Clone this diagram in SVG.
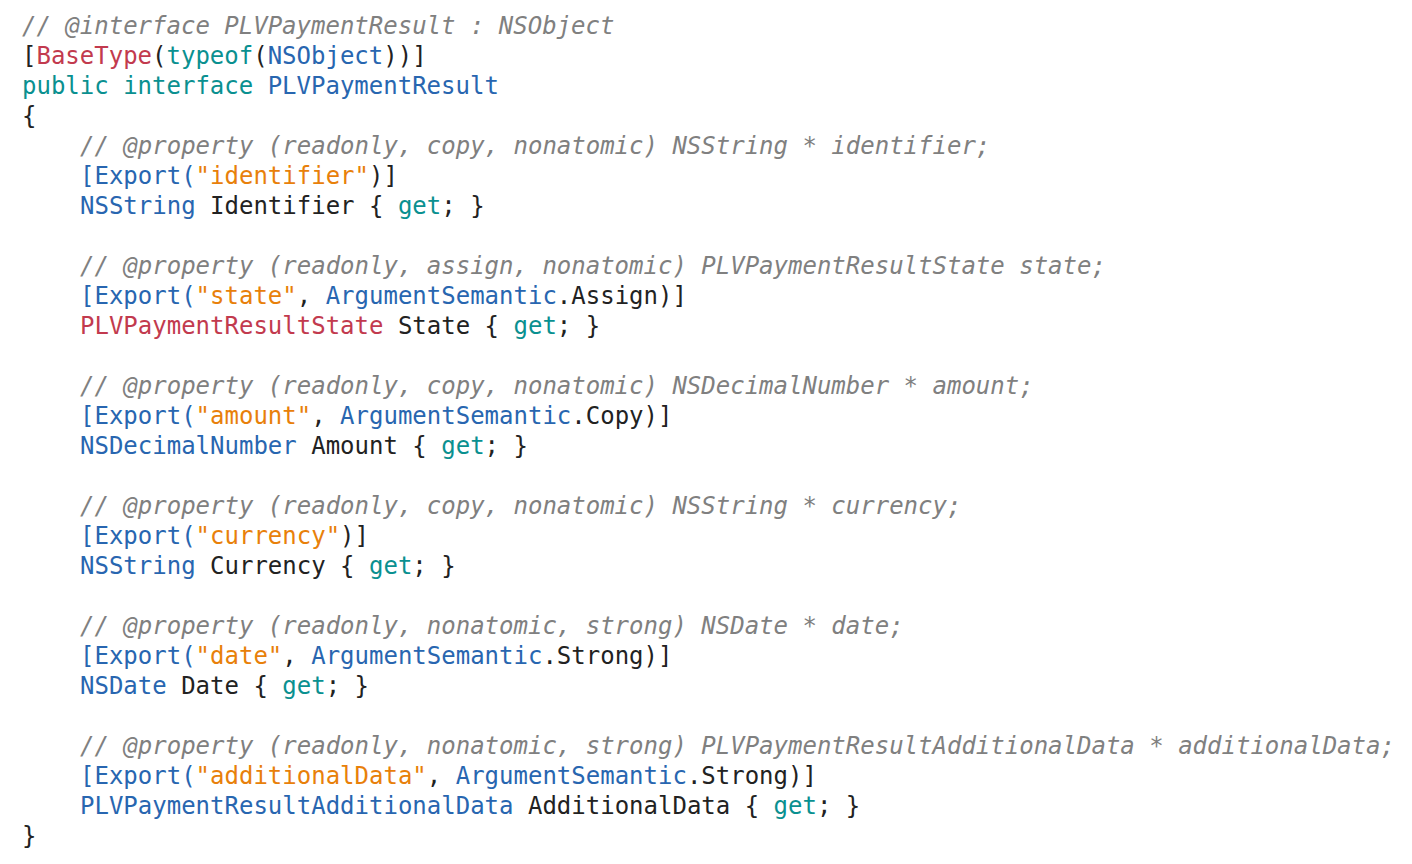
<svg xmlns="http://www.w3.org/2000/svg" width="1412" height="864" viewBox="0 0 1412 864">
<style>
text{font-family:"DejaVu Sans Mono",monospace;font-size:24px;fill:#222;white-space:pre}
.c{fill:#808080;font-style:italic}
.r{fill:#c23a4e}
.t{fill:#0a9090}
.b{fill:#2866b0}
.o{fill:#e8800a}
</style>
<rect width="1412" height="864" fill="#fff"/>
<g id="code" xml:space="preserve">
<text x="22" y="34" class="c">// @interface PLVPaymentResult : NSObject</text>
<text x="22" y="64">[<tspan class="r">BaseType</tspan>(<tspan class="t">typeof</tspan>(<tspan class="b">NSObject</tspan>))]</text>
<text x="22" y="94"><tspan class="t">public interface</tspan> <tspan class="b">PLVPaymentResult</tspan></text>
<text x="22" y="124">{</text>
<text x="80" y="154" class="c">// @property (readonly, copy, nonatomic) NSString * identifier;</text>
<text x="80" y="184"><tspan class="b">[Export(</tspan><tspan class="o">"identifier"</tspan>)]</text>
<text x="80" y="214"><tspan class="b">NSString</tspan> Identifier { <tspan class="t">get</tspan>; }</text>
<text x="80" y="274" class="c">// @property (readonly, assign, nonatomic) PLVPaymentResultState state;</text>
<text x="80" y="304"><tspan class="b">[Export(</tspan><tspan class="o">"state"</tspan>, <tspan class="b">ArgumentSemantic</tspan>.Assign)]</text>
<text x="80" y="334"><tspan class="r">PLVPaymentResultState</tspan> State { <tspan class="t">get</tspan>; }</text>
<text x="80" y="394" class="c">// @property (readonly, copy, nonatomic) NSDecimalNumber * amount;</text>
<text x="80" y="424"><tspan class="b">[Export(</tspan><tspan class="o">"amount"</tspan>, <tspan class="b">ArgumentSemantic</tspan>.Copy)]</text>
<text x="80" y="454"><tspan class="b">NSDecimalNumber</tspan> Amount { <tspan class="t">get</tspan>; }</text>
<text x="80" y="514" class="c">// @property (readonly, copy, nonatomic) NSString * currency;</text>
<text x="80" y="544"><tspan class="b">[Export(</tspan><tspan class="o">"currency"</tspan>)]</text>
<text x="80" y="574"><tspan class="b">NSString</tspan> Currency { <tspan class="t">get</tspan>; }</text>
<text x="80" y="634" class="c">// @property (readonly, nonatomic, strong) NSDate * date;</text>
<text x="80" y="664"><tspan class="b">[Export(</tspan><tspan class="o">"date"</tspan>, <tspan class="b">ArgumentSemantic</tspan>.Strong)]</text>
<text x="80" y="694"><tspan class="b">NSDate</tspan> Date { <tspan class="t">get</tspan>; }</text>
<text x="80" y="754" class="c">// @property (readonly, nonatomic, strong) PLVPaymentResultAdditionalData * additionalData;</text>
<text x="80" y="784"><tspan class="b">[Export(</tspan><tspan class="o">"additionalData"</tspan>, <tspan class="b">ArgumentSemantic</tspan>.Strong)]</text>
<text x="80" y="814"><tspan class="b">PLVPaymentResultAdditionalData</tspan> AdditionalData { <tspan class="t">get</tspan>; }</text>
<text x="22" y="844">}</text>
</g>
</svg>
